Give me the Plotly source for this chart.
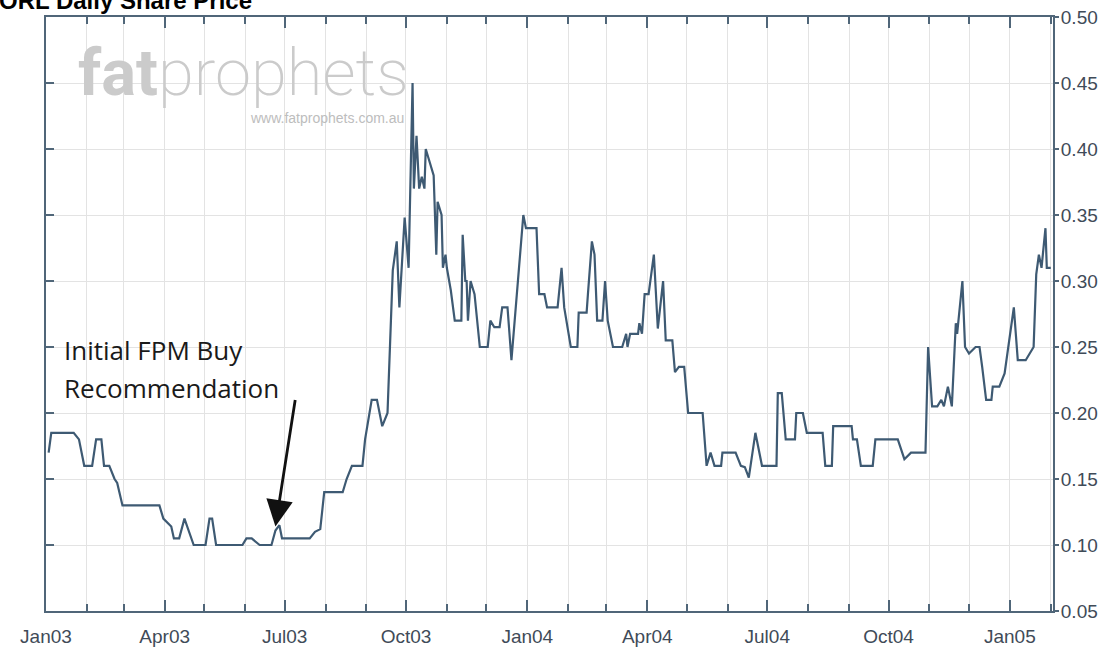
import plotly.graph_objects as go

# ---------------- data ----------------
dates = [
    "2003-01-03", "2003-01-05", "2003-01-22", "2003-01-26", "2003-01-30", "2003-02-05",
    "2003-02-08", "2003-02-12", "2003-02-14", "2003-02-18", "2003-02-22", "2003-02-24",
    "2003-02-28", "2003-03-28", "2003-03-31", "2003-04-06", "2003-04-08", "2003-04-12",
    "2003-04-16", "2003-04-23", "2003-05-02", "2003-05-05", "2003-05-07", "2003-05-10",
    "2003-05-30", "2003-06-02", "2003-06-06", "2003-06-12", "2003-06-21", "2003-06-24",
    "2003-06-27", "2003-06-29", "2003-07-20", "2003-07-24", "2003-07-28", "2003-07-31",
    "2003-08-14", "2003-08-17", "2003-08-21", "2003-08-29", "2003-08-31", "2003-09-05",
    "2003-09-09", "2003-09-13", "2003-09-17", "2003-09-21", "2003-09-24", "2003-09-26",
    "2003-09-30", "2003-10-03", "2003-10-06", "2003-10-07", "2003-10-09", "2003-10-11",
    "2003-10-13", "2003-10-15", "2003-10-16", "2003-10-19", "2003-10-22", "2003-10-24",
    "2003-10-25", "2003-10-28", "2003-10-29", "2003-10-31", "2003-11-01", "2003-11-04",
    "2003-11-07", "2003-11-12", "2003-11-13", "2003-11-15", "2003-11-16", "2003-11-17",
    "2003-11-19", "2003-11-22", "2003-11-26", "2003-12-02", "2003-12-04", "2003-12-07",
    "2003-12-11", "2003-12-13", "2003-12-17", "2003-12-20", "2003-12-24", "2003-12-29",
    "2003-12-31", "2004-01-08", "2004-01-10", "2004-01-14", "2004-01-16", "2004-01-24",
    "2004-01-27", "2004-01-29", "2004-02-03", "2004-02-08", "2004-02-09", "2004-02-15",
    "2004-02-16", "2004-02-19", "2004-02-21", "2004-02-23", "2004-02-27", "2004-02-29",
    "2004-03-02", "2004-03-06", "2004-03-13", "2004-03-16", "2004-03-17", "2004-03-19",
    "2004-03-25", "2004-03-26", "2004-03-28", "2004-03-30", "2004-04-02", "2004-04-06",
    "2004-04-09", "2004-04-13", "2004-04-15", "2004-04-20", "2004-04-22", "2004-04-25",
    "2004-04-29", "2004-05-02", "2004-05-13", "2004-05-16", "2004-05-19", "2004-05-22",
    "2004-05-27", "2004-05-28", "2004-06-07", "2004-06-11", "2004-06-14", "2004-06-17",
    "2004-06-22", "2004-06-27", "2004-07-08", "2004-07-09", "2004-07-12", "2004-07-15",
    "2004-07-22", "2004-07-23", "2004-07-28", "2004-07-31", "2004-08-12", "2004-08-14",
    "2004-08-19", "2004-08-20", "2004-09-03", "2004-09-04", "2004-09-07", "2004-09-10",
    "2004-09-19", "2004-09-21", "2004-10-08", "2004-10-11", "2004-10-13", "2004-10-18",
    "2004-10-29", "2004-10-31", "2004-11-03", "2004-11-07", "2004-11-10", "2004-11-12",
    "2004-11-15", "2004-11-18", "2004-11-21", "2004-11-22", "2004-11-26", "2004-11-28",
    "2004-12-01", "2004-12-06", "2004-12-09", "2004-12-11", "2004-12-14", "2004-12-18",
    "2004-12-19", "2004-12-24", "2004-12-28", "2005-01-04", "2005-01-07", "2005-01-13",
    "2005-01-16", "2005-01-19", "2005-01-21", "2005-01-23", "2005-01-25", "2005-01-28",
    "2005-01-29", "2005-02-01",
]
prices = [
    0.170, 0.185, 0.185, 0.180, 0.160, 0.160,
    0.180, 0.180, 0.160, 0.160, 0.150, 0.147,
    0.130, 0.130, 0.120, 0.114, 0.105, 0.105,
    0.120, 0.100, 0.100, 0.120, 0.120, 0.100,
    0.100, 0.105, 0.105, 0.100, 0.100, 0.111,
    0.115, 0.105, 0.105, 0.110, 0.112, 0.140,
    0.140, 0.150, 0.160, 0.160, 0.180, 0.210,
    0.210, 0.190, 0.200, 0.308, 0.330, 0.280,
    0.348, 0.310, 0.450, 0.370, 0.410, 0.370,
    0.379, 0.370, 0.400, 0.390, 0.380, 0.320,
    0.360, 0.350, 0.310, 0.320, 0.310, 0.293,
    0.270, 0.270, 0.335, 0.300, 0.300, 0.270,
    0.300, 0.290, 0.250, 0.250, 0.270, 0.265,
    0.265, 0.280, 0.280, 0.240, 0.290, 0.350,
    0.340, 0.340, 0.290, 0.290, 0.280, 0.280,
    0.310, 0.280, 0.250, 0.250, 0.276, 0.276,
    0.290, 0.330, 0.320, 0.270, 0.270, 0.300,
    0.270, 0.250, 0.250, 0.260, 0.250, 0.260,
    0.260, 0.268, 0.260, 0.290, 0.290, 0.320,
    0.264, 0.300, 0.255, 0.255, 0.231, 0.235,
    0.235, 0.200, 0.200, 0.160, 0.170, 0.160,
    0.160, 0.170, 0.170, 0.160, 0.159, 0.151,
    0.185, 0.160, 0.160, 0.215, 0.215, 0.180,
    0.180, 0.200, 0.200, 0.185, 0.185, 0.160,
    0.160, 0.190, 0.190, 0.180, 0.180, 0.160,
    0.160, 0.180, 0.180, 0.170, 0.165, 0.170,
    0.170, 0.250, 0.205, 0.205, 0.210, 0.205,
    0.220, 0.205, 0.268, 0.260, 0.300, 0.250,
    0.245, 0.250, 0.250, 0.235, 0.210, 0.210,
    0.220, 0.220, 0.230, 0.280, 0.240, 0.240,
    0.245, 0.250, 0.305, 0.320, 0.310, 0.340,
    0.310, 0.310,
]

title_text = "ORL Daily Share Price"
note_lines = ["Initial FPM Buy", "Recommendation"]
arrow_date = "2003-06-24"
arrow_value = 0.114
x_range = ["2003-01-01", "2005-02-02 17:00"]
y_range = [0.05, 0.50]

# ---------------- layout geometry / styles ----------------
W, H = 1107, 653
L, R, T, B = 46, 1053, 17, 611
PW, PH = R - L, B - T

def px(xp):
    return (xp - L) / PW

def py(yp):
    return 1 - (yp - T) / PH

AX = "#506679"
LINE = "#3e5a73"
GRID = "#e3e3e3"
LABEL = "#3f4b58"

fig = go.Figure()
fig.add_trace(go.Scatter(
    x=dates, y=prices, mode="lines",
    line=dict(color=LINE, width=2.2), showlegend=False,
    hoverinfo="x+y",
))
# invisible helper trace so the left tick axis is drawn
fig.add_trace(go.Scatter(
    x=[dates[0]], y=[prices[0]], mode="markers", marker=dict(opacity=0),
    xaxis="x", yaxis="y2", showlegend=False, hoverinfo="skip",
))

fig.update_layout(
    width=W, height=H,
    margin=dict(l=L, r=W - R, t=T, b=H - B, pad=0, autoexpand=False),
    paper_bgcolor="white", plot_bgcolor="white",
    xaxis=dict(
        type="date", range=x_range, tick0="2003-01-01", dtick="M3",
        tickformat="%b%y", ticks="inside", ticklen=11, tickwidth=1.5, tickcolor=AX,
        showline=True, linecolor=AX, linewidth=2, mirror="ticks",
        showgrid=True, gridcolor=GRID, gridwidth=1, zeroline=False,
        minor=dict(dtick="M1", ticks="inside", ticklen=7, tickwidth=1.5, tickcolor=AX,
                   showgrid=True, gridcolor=GRID, gridwidth=1),
        tickfont=dict(family="Arial", size=19, color=LABEL),
        ticklabelstandoff=7, automargin=False,
    ),
    yaxis=dict(
        side="right", range=y_range, tick0=0.05, dtick=0.05, tickformat=".2f",
        ticks="outside", ticklen=4, tickwidth=1.5, tickcolor=AX,
        showline=True, linecolor=AX, linewidth=2, mirror=True,
        showgrid=True, gridcolor=GRID, gridwidth=1, zeroline=False,
        tickfont=dict(family="Arial", size=19, color=LABEL),
        ticklabelstandoff=-2, automargin=False,
    ),
    yaxis2=dict(
        overlaying="y", side="left", range=y_range, tick0=0.05, dtick=0.05,
        ticks="inside", ticklen=8, tickwidth=1.5, tickcolor=AX,
        showticklabels=False, showgrid=False, showline=False, zeroline=False,
        automargin=False,
    ),
)

annotations = [
    # title (clipped at the top edge, as in the reference)
    dict(text=f"<b>{title_text}</b>", xref="paper", yref="paper",
         x=px(-3), y=py(1), xanchor="left", yanchor="middle", showarrow=False,
         font=dict(family="Arial", size=24, color="#000000")),
    # watermark logo
    dict(text="<b>fat</b>prophets", xref="paper", yref="paper",
         x=px(76), y=py(73), xanchor="left", yanchor="middle", showarrow=False,
         font=dict(family="Roboto", size=65, color="#cbcbcb", weight=200)),
    dict(text="www.fatprophets.com.au", xref="paper", yref="paper",
         x=px(406), y=py(118), xanchor="right", yanchor="middle", showarrow=False,
         font=dict(family="Arial", size=14, color="#bdbdbd")),
    # note text
    dict(text=note_lines[0], xref="paper", yref="paper",
         x=px(62), y=py(350), xanchor="left", yanchor="middle", showarrow=False,
         font=dict(family="Open Sans", size=26, color="#1a1a1a")),
    dict(text=note_lines[1], xref="paper", yref="paper",
         x=px(62), y=py(388), xanchor="left", yanchor="middle", showarrow=False,
         font=dict(family="Open Sans", size=26, color="#1a1a1a")),
    # arrow
    dict(text="", x=arrow_date, y=arrow_value, xref="x", yref="y",
         showarrow=True, ax=20, ay=-128, arrowhead=2, arrowsize=1.9,
         arrowwidth=2.8, arrowcolor="#111111", standoff=0),
]
fig.update_layout(annotations=annotations)

fig.write_html("out.html")
